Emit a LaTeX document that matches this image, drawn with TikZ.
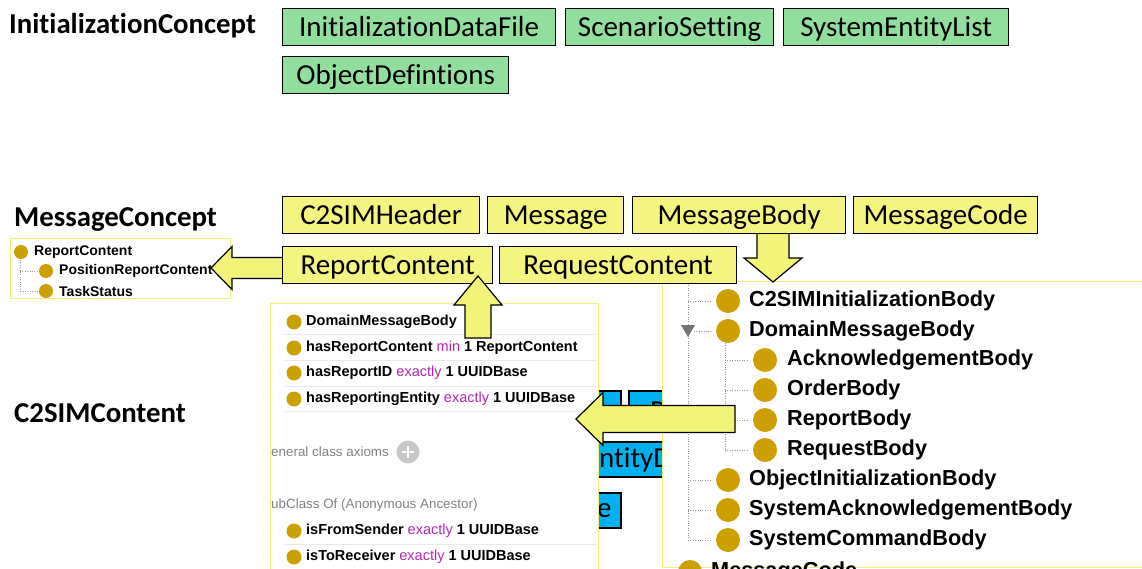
\documentclass[tikz,border=0pt]{standalone}
\usepackage{fontspec}
\setmainfont[Ligatures=NoCommon]{Carlito}
\newfontfamily\pfont{Liberation Sans}
\definecolor{boxgreen}{RGB}{146,222,158}
\definecolor{boxyellow}{RGB}{244,244,128}
\definecolor{arrowyellow}{RGB}{242,244,122}
\definecolor{boxblue}{RGB}{0,176,240}
\definecolor{ballgold}{RGB}{204,160,0}
\definecolor{kwpurple}{RGB}{180,40,180}
\definecolor{panelborder}{RGB}{240,240,120}
\definecolor{rowline}{RGB}{232,232,232}
\definecolor{axiomgray}{RGB}{130,130,130}
\definecolor{treegray}{RGB}{150,150,150}

\tikzset{
  concept/.style={font=\bfseries\fontsize{28.8}{28.8}\selectfont, anchor=west, inner sep=0pt},
  cbox/.style={draw=black, line width=1.3pt, anchor=north west, inner sep=0pt,
               minimum height=37pt, text height=22pt, text depth=3pt,
               font=\fontsize{29}{29}\selectfont},
  greenbox/.style={cbox, fill=boxgreen},
  yellowbox/.style={cbox, fill=boxyellow},
  bluebox/.style={draw=black, line width=1.3pt, fill=boxblue},
  bluetext/.style={anchor=west, inner sep=0pt, font=\fontsize{29}{29}\selectfont},
  panel/.style={draw=panelborder, line width=0.9pt, fill=white},
  bigitem/.style={anchor=west, inner sep=0pt, font=\pfont\bfseries\fontsize{21.7}{21.7}\selectfont},
  miditem/.style={anchor=west, inner sep=0pt, font=\pfont\bfseries\fontsize{14.5}{14.5}\selectfont},
  smallitem/.style={anchor=west, inner sep=0pt, font=\pfont\bfseries\fontsize{14}{14}\selectfont},
  axiomhead/.style={anchor=west, inner sep=0pt, text=axiomgray, font=\pfont\fontsize{13.4}{13.4}\selectfont},
  treeline/.style={draw=treegray, line width=0.8pt, dash pattern=on 1pt off 1.4pt},
  blockarrow/.style={fill=arrowyellow, draw=black, line width=1.2pt, line join=miter},
}
\newcommand{\kw}[1]{{\mdseries\textcolor{kwpurple}{#1}}}
% block arrow: tip, rotation, length, shaft width, head width, head length
\newcommand{\blkarrow}[6]{%
  \begin{scope}[shift={(#1)}, rotate=#2]
    \draw[blockarrow] (0,0) -- (#6,#5/2) -- (#6,#4/2) -- (#3,#4/2)
      -- (#3,-#4/2) -- (#6,-#4/2) -- (#6,-#5/2) -- cycle;
  \end{scope}}

\begin{document}
\begin{tikzpicture}[x=1pt, y=-1pt]
\useasboundingbox[fill=white] (0,0) rectangle (1142,569);

% concept headings
\node[concept] (initc) at (9,26) {InitializationConcept};
\node[concept] (msgc) at (14,219) {MessageConcept};
\node[concept] (contc) at (14,413) {C2SIMContent};

% initialization concept classes
\node[greenbox, minimum width=273pt] (idf) at (282,8) {InitializationDataFile};
\node[greenbox, minimum width=208pt] (sset) at (565,8) {ScenarioSetting};
\node[greenbox, minimum width=225pt] (sel) at (783,8) {SystemEntityList};
\node[greenbox, minimum width=226pt] (odef) at (282,56) {ObjectDefintions};

% content classes, mostly hidden behind the panels
\draw[bluebox] (570,391) rectangle (621,432);
\draw[bluebox] (629,391) rectangle (690,432);
\node[bluetext] (pcont) at (650,411) {P};
\draw[bluebox] (570,442) rectangle (690,477);
\node[bluetext] (entd) at (599,460) {ntityD};
\draw[bluebox] (570,493) rectangle (621,528);
\node[bluetext] (ebox) at (597,511) {e};

% message concept panel
\draw[panel] (10,238) rectangle (230,298);
\draw[treeline] (20,260) -- (20,291) -- (38,291);
\draw[treeline] (20,271) -- (38,271);
\fill[ballgold] (21,252) circle (7pt);
\node[smallitem] (rcl) at (34,252) {ReportContent};
\fill[ballgold] (46,271) circle (7pt);
\node[smallitem] (prc) at (59,271) {PositionReportContent};
\fill[ballgold] (46,291) circle (7pt);
\node[smallitem] (tst) at (59,291) {TaskStatus};

% report content description panel
\begin{scope}
  \clip (269,302) rectangle (600,569);
  \draw[panel] (270,303) rectangle (598,575);
  \foreach \yy in {334,360,386,411,544,569}
    \draw[rowline, line width=0.8pt] (285,\yy) -- (597,\yy);
  \foreach \yy in {322,348,373,399,531,557}
    \fill[ballgold] (294,\yy) circle (7.5pt);
  \node[miditem] (dmb) at (306,322) {DomainMessageBody};
  \node[miditem] (hrc) at (306,348) {hasReportContent \kw{min} 1 ReportContent};
  \node[miditem] (hri) at (306,373) {hasReportID \kw{exactly} 1 UUIDBase};
  \node[miditem] (hre) at (306,399) {hasReportingEntity \kw{exactly} 1 UUIDBase};
  \node[axiomhead] (gca) at (271,452) {eneral class axioms};
  \fill[black!22] (408,452) circle (11.5pt);
  \draw[white, line width=2.4pt] (402,452) -- (414,452) (408,446) -- (408,458);
  \node[axiomhead] (sco) at (271,505) {ubClass Of (Anonymous Ancestor)};
  \node[miditem] (ifs) at (306,531) {isFromSender \kw{exactly} 1 UUIDBase};
  \node[miditem] (itr) at (306,557) {isToReceiver \kw{exactly} 1 UUIDBase};
\end{scope}

% message body hierarchy panel
\begin{scope}
  \clip (661,280) rectangle (1142,569);
  \draw[panel] (662,281) rectangle (1150,567);
  \draw[treeline] (688,283) -- (688,540);
  \foreach \yy in {301,480,510,540} \draw[treeline] (688,\yy) -- (712,\yy);
  \draw[treeline] (694,331) -- (712,331);
  \fill[black!55] (681,325) -- (695,325) -- (688,337) -- cycle;
  \draw[treeline] (725,343) -- (725,450);
  \foreach \yy in {360,390,420,450} \draw[treeline] (725,\yy) -- (749,\yy);
  \foreach \yy in {301,331,480,510,540} \fill[ballgold] (728,\yy) circle (12pt);
  \foreach \yy in {360,390,420,450} \fill[ballgold] (765,\yy) circle (12pt);
  \node[bigitem] (cib) at (749,301) {C2SIMInitializationBody};
  \node[bigitem] (dmb2) at (749,331) {DomainMessageBody};
  \node[bigitem] (ackb) at (787,360) {AcknowledgementBody};
  \node[bigitem] (ordb) at (787,390) {OrderBody};
  \node[bigitem] (repb) at (787,420) {ReportBody};
  \node[bigitem] (reqb) at (787,450) {RequestBody};
  \node[bigitem] (oib) at (749,480) {ObjectInitializationBody};
  \node[bigitem] (sab) at (749,510) {SystemAcknowledgementBody};
  \node[bigitem] (scb) at (749,540) {SystemCommandBody};
  \fill[ballgold] (690,572) circle (12pt);
  \node[bigitem] (mcode) at (711,572) {MessageCode};
\end{scope}

% arrows whose tails sit under the class boxes
\blkarrow{211,268}{0}{72}{21}{43}{21}
\blkarrow{773,282}{90}{50}{32}{58}{24}

% message concept classes
\node[yellowbox, minimum width=197pt] (hdr) at (282,196) {C2SIMHeader};
\node[yellowbox, minimum width=136pt] (msg) at (487,196) {Message};
\node[yellowbox, minimum width=213pt] (mbody) at (632,196) {MessageBody};
\node[yellowbox, minimum width=184pt] (mcodebox) at (853,196) {MessageCode};
\node[yellowbox, minimum width=210pt] (rcont) at (282,246) {ReportContent};
\node[yellowbox, minimum width=237pt] (rqcont) at (499,246) {RequestContent};

% arrows drawn over everything else
\blkarrow{478,276}{-90}{62}{26}{48}{29}
\blkarrow{576,419}{0}{159}{27}{53}{27}

\end{tikzpicture}
\end{document}
